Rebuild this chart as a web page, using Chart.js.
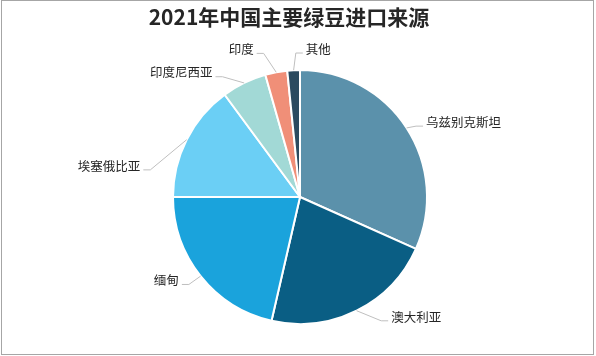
<!DOCTYPE html>
<html><head><meta charset="utf-8">
<script src="https://cdn.jsdelivr.net/npm/chart.js@4"></script>
<style>html,body{margin:0;padding:0;background:#fff;}#wrap{position:relative;width:596px;height:356px;}</style>
</head><body><div id="wrap"><canvas id="c" width="596" height="356"></canvas></div>
<script>
const chartTitle = '2021年中国主要绿豆进口来源';
const categories = ['乌兹别克斯坦', '澳大利亚', '缅甸', '埃塞俄比亚', '印度尼西亚', '印度', '其他'];
const shares = [31.7, 21.9, 21.4, 14.9, 5.7, 2.8, 1.6];
const sliceColors = ['#5B91AB', '#0A5E84', '#1AA3DC', '#6BCFF5', '#A2D9D6', '#F08F78', '#2B4A5F'];
// label layout nudges to mimic the original placement
const labelAngleShift = [3, -9, 2, -17, -9, -6, 4];   // degrees from slice middle
const labelRadialGap = [15, 25, 20, 32, 20, 23, 17];  // px beyond pie edge

const labelPlugin = {
  id: 'outLabels',
  afterDatasetsDraw(chart) {
    const ctx = chart.ctx;
    const meta = chart.getDatasetMeta(0);
    ctx.save();
    ctx.font = '12.5px "Noto Sans CJK SC", sans-serif';
    ctx.textBaseline = 'middle';
    meta.data.forEach((arc, i) => {
      const p = arc.getProps(['x', 'y', 'startAngle', 'endAngle', 'outerRadius'], true);
      const mid = (p.startAngle + p.endAngle) / 2;
      const ax = p.x + Math.cos(mid) * p.outerRadius;
      const ay = p.y + Math.sin(mid) * p.outerRadius;
      const la = mid + labelAngleShift[i] * Math.PI / 180;
      const lr = p.outerRadius + labelRadialGap[i];
      const ex = p.x + Math.cos(la) * lr;
      const ey = p.y + Math.sin(la) * lr;
      const right = ex >= p.x;
      const bx = ex + (right ? -7 : 7);
      ctx.strokeStyle = '#BFBFBF';
      ctx.lineWidth = 1;
      ctx.beginPath();
      ctx.moveTo(ax, ay);
      ctx.lineTo(bx, ey);
      ctx.lineTo(ex, ey);
      ctx.stroke();
      ctx.fillStyle = '#262626';
      ctx.textAlign = right ? 'left' : 'right';
      ctx.fillText(categories[i], ex + (right ? 3 : -3), ey - 4);
    });
    ctx.restore();
  },
  afterDraw(chart) {
    const ctx = chart.ctx;
    ctx.save();
    ctx.font = 'bold 21px "Noto Sans CJK SC", sans-serif';
    ctx.fillStyle = '#262626';
    ctx.textAlign = 'center';
    ctx.textBaseline = 'middle';
    ctx.fillText(chartTitle, 289, 17);
    ctx.strokeStyle = '#A6A6A6';
    ctx.lineWidth = 1;
    ctx.strokeRect(1.5, 0.5, 592, 354);
    ctx.restore();
  }
};

new Chart(document.getElementById('c'), {
  type: 'pie',
  data: {
    labels: categories,
    datasets: [{
      data: shares,
      backgroundColor: sliceColors,
      borderColor: '#FFFFFF',
      borderWidth: 2,
      hoverOffset: 0
    }]
  },
  options: {
    responsive: false,
    animation: false,
    layout: { padding: { top: 69, bottom: 31, left: 100, right: 96 } },
    plugins: { legend: { display: false }, tooltip: { enabled: false }, title: { display: false } }
  },
  plugins: [labelPlugin]
});
</script></body></html>
